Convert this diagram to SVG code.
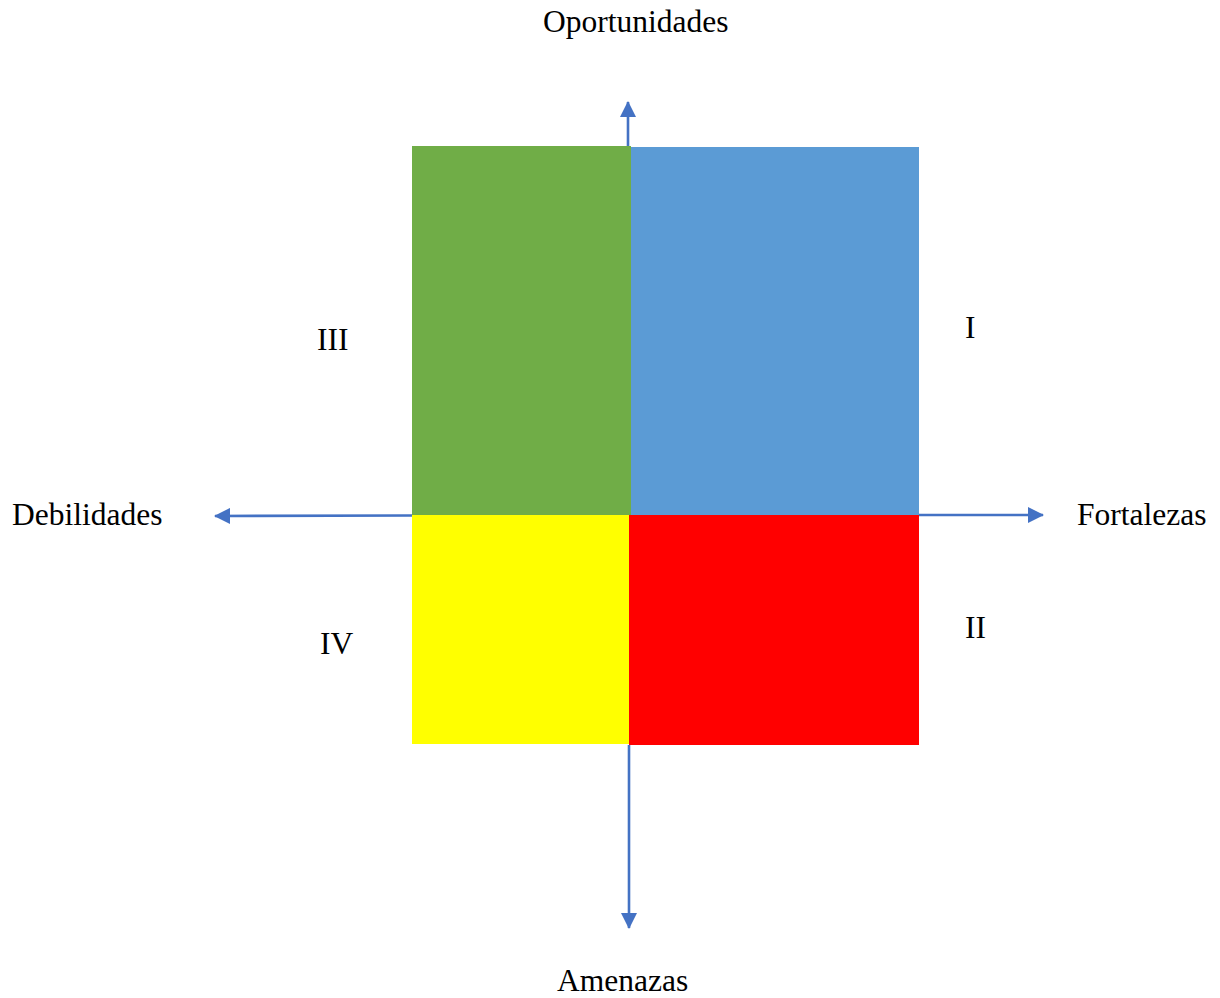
<svg xmlns="http://www.w3.org/2000/svg" width="1220" height="998" viewBox="0 0 1220 998">
  <defs>
    <style>
      .lbl { font-family: "Liberation Serif", "Times New Roman", serif; font-size: 31.5px; fill: #000; }
      .axis { stroke: #4472C4; stroke-width: 2.6; fill: none; }
    </style>
    <marker id="head" viewBox="0 0 16 16" refX="15" refY="8" markerWidth="16" markerHeight="16" markerUnits="userSpaceOnUse" orient="auto">
      <path d="M0,0 L16,8 L0,16 Z" fill="#4472C4"/>
    </marker>
  </defs>
  <rect width="1220" height="998" fill="#fff"/>

  <!-- quadrants -->
  <g id="q3"><rect x="412" y="146" width="219" height="369" fill="#70AD47"/></g>
  <g id="q1"><rect x="631" y="147" width="288" height="368" fill="#5B9BD5"/></g>
  <g id="q4"><rect x="412" y="515" width="217" height="229" fill="#FFFF00"/></g>
  <g id="q2"><rect x="629" y="515" width="290" height="230" fill="#FF0000"/></g>

  <!-- axes -->
  <g id="connectors">
    <line class="axis" x1="628" y1="146" x2="628" y2="102" marker-end="url(#head)"/>
    <line class="axis" x1="629" y1="745" x2="629" y2="928" marker-end="url(#head)"/>
    <line class="axis" x1="919" y1="515" x2="1043" y2="515" marker-end="url(#head)"/>
    <line class="axis" x1="412" y1="515.5" x2="215" y2="516" marker-end="url(#head)"/>
  </g>

  <!-- axis labels -->
  <g id="label-oportunidades"><text class="lbl" x="543" y="31.5">Oportunidades</text></g>
  <g id="label-amenazas"><text class="lbl" x="557" y="991">Amenazas</text></g>
  <g id="label-fortalezas"><text class="lbl" x="1077" y="525">Fortalezas</text></g>
  <g id="label-debilidades"><text class="lbl" x="12" y="525">Debilidades</text></g>

  <!-- quadrant numerals -->
  <g id="label-i"><text class="lbl" x="965" y="338">I</text></g>
  <g id="label-ii"><text class="lbl" x="965" y="638">II</text></g>
  <g id="label-iii"><text class="lbl" x="317" y="350">III</text></g>
  <g id="label-iv"><text class="lbl" x="320" y="654">IV</text></g>
</svg>
